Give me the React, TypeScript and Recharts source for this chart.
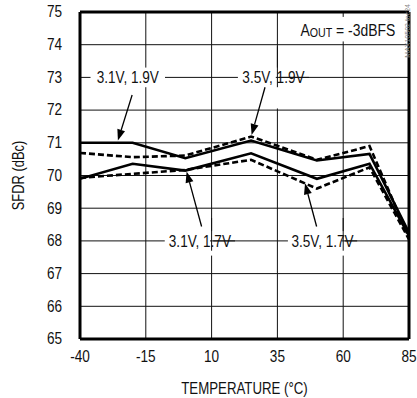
import React from 'react';
import { LineChart, Line, XAxis, YAxis, ReferenceArea, ReferenceLine } from 'recharts';

const temps = [-40, -20, 0, 25, 50, 70, 85];
const sfdr31v19 = [71.0, 71.0, 70.53, 71.07, 70.46, 70.66, 68.25];
const sfdr35v19 = [70.69, 70.56, 70.61, 71.19, 70.48, 70.9, 68.1];
const sfdr31v17 = [69.9, 70.36, 70.15, 70.68, 69.9, 70.36, 68.15];
const sfdr35v17 = [69.93, 70.05, 70.17, 70.48, 69.6, 70.25, 68.05];

const xTicks = [-40, -15, 10, 35, 60, 85];
const yTicks = [65, 66, 67, 68, 69, 70, 71, 72, 73, 74, 75];

const seriesLabels = ['3.1V, 1.9V', '3.5V, 1.9V', '3.1V, 1.7V', '3.5V, 1.7V'];

// label boxes: [x1, x2, y1, y2] in data units
const labelBoxes = [
  [-36, -7.7, 72.7, 73.3],
  [20, 47, 72.7, 73.3],
  [-7.8, 18.9, 67.7, 68.3],
  [39, 65.3, 67.7, 68.3],
];
const aoutBox = [40, 83.5, 74.1, 74.85];
// extra gaps in vertical gridlines: [x1, x2, y1, y2]
const gapBoxes = [
  [34.4, 35.6, 72.05, 73.95],
  [9.4, 10.6, 67.55, 68.7],
  [59.4, 60.6, 67.55, 68.7],
];
// arrows: [fromT, fromV, tipT, tipV]
const arrows = [
  [-20.2, 72.46, -25.6, 71.07],
  [30.3, 72.7, 25.2, 71.24],
  [6.2, 68.44, 0.5, 70.12],
  [49.9, 68.44, 45.5, 69.76],
];

const data = temps.map((t, i) => ({
  t,
  a: sfdr31v19[i],
  b: sfdr35v19[i],
  c: sfdr31v17[i],
  d: sfdr35v17[i],
}));

const X0 = xTicks[0];
const X1 = xTicks[xTicks.length - 1];
const Y0 = yTicks[0];
const Y1 = yTicks[yTicks.length - 1];
const allBoxes = [...labelBoxes, aoutBox, ...gapBoxes];

// gridline point lists, broken (null) where a label box sits on them
const hGridData = (v: number) => {
  const gaps = allBoxes
    .filter((b) => b[2] < v && v < b[3])
    .map((b) => [b[0], b[1]])
    .sort((p, q) => p[0] - q[0]);
  const pts: any[] = [];
  let start = X0;
  gaps.forEach(([a, b]) => {
    pts.push({ t: start, g: v }, { t: a, g: v }, { t: (a + b) / 2, g: null });
    start = b;
  });
  pts.push({ t: start, g: v }, { t: X1, g: v });
  return pts;
};
const vGridData = (v: number) => {
  const gaps = allBoxes
    .filter((b) => b[0] < v && v < b[1])
    .map((b) => [b[2], b[3]])
    .sort((p, q) => p[0] - q[0]);
  const pts: any[] = [];
  let start = Y0;
  gaps.forEach(([a, b]) => {
    pts.push({ t: v, g: start }, { t: v, g: a }, { t: v, g: null });
    start = b;
  });
  pts.push({ t: v, g: start }, { t: v, g: Y1 });
  return pts;
};

const FONT = "'Liberation Sans', Arial, sans-serif";
const INK = '#111';

const Narrow = ({ x, y, size, sx, anchor, rotate, children }: any) => (
  <text
    transform={`translate(${x} ${y})${rotate ? ` rotate(${rotate})` : ''} scale(${sx} 1)`}
    x={0}
    y={0}
    textAnchor={anchor || 'middle'}
    dominantBaseline="central"
    fontFamily={FONT}
    fontSize={size}
    fill={INK}
  >
    {children}
  </text>
);

const XTick = (props: any) => {
  const { x, y, payload } = props;
  return (
    <Narrow x={x} y={y + 6} size={16} sx={0.85}>
      {payload.value}
    </Narrow>
  );
};

const YTick = (props: any) => {
  const { x, y, payload } = props;
  return (
    <Narrow x={x} y={y} size={16} sx={0.85} anchor="end">
      {payload.value}
    </Narrow>
  );
};

const ArrowShape = (props: any) => {
  const { x1, y1, x2, y2 } = props;
  if ([x1, y1, x2, y2].some((v) => v === undefined || isNaN(v))) return null;
  const dx = x2 - x1;
  const dy = y2 - y1;
  const len = Math.sqrt(dx * dx + dy * dy);
  const ux = dx / len;
  const uy = dy / len;
  const hl = 11;
  const hw = 4;
  const bx = x2 - ux * hl;
  const by = y2 - uy * hl;
  const px = -uy;
  const py = ux;
  return (
    <g>
      <line x1={x1} y1={y1} x2={bx} y2={by} stroke="#000" strokeWidth={1.3} />
      <polygon
        points={`${x2},${y2} ${bx + px * hw},${by + py * hw} ${bx - px * hw},${by - py * hw}`}
        fill="#000"
      />
    </g>
  );
};

const BoxLabel = (text: string) => (props: any) => {
  const vb = props.viewBox || {};
  return (
    <Narrow x={vb.x + vb.width / 2} y={vb.y + vb.height / 2} size={17} sx={0.8}>
      {text}
    </Narrow>
  );
};

const AoutLabel = (props: any) => {
  const vb = props.viewBox || {};
  return (
    <Narrow x={vb.x + vb.width / 2} y={vb.y + vb.height / 2} size={17} sx={0.82}>
      <tspan>A</tspan>
      <tspan fontSize={13} dy={3}>OUT</tspan>
      <tspan dy={-3}> = -3dBFS</tspan>
    </Narrow>
  );
};

const YTitle = (props: any) => {
  const vb = props.viewBox || {};
  return (
    <Narrow x={18} y={vb.y + vb.height / 2} size={17} sx={0.76} rotate={-90}>
      SFDR (dBc)
    </Narrow>
  );
};

const XTitle = (props: any) => {
  const vb = props.viewBox || {};
  return (
    <Narrow x={vb.x + vb.width / 2} y={vb.y + 49} size={17} sx={0.78}>
      TEMPERATURE (°C)
    </Narrow>
  );
};

const whiteBox = { fill: '#fff', fillOpacity: 1, stroke: 'none' };

export default function App() {
  return (
    <div style={{ position: 'absolute', left: 0, top: 0, width: 417, height: 398, background: '#fff' }}>
      <LineChart width={417} height={398} data={data} margin={{ top: 12, right: 8, left: 0, bottom: 0 }}>
        <XAxis
          dataKey="t"
          type="number"
          domain={[-40, 85]}
          allowDataOverflow
          ticks={xTicks}
          tickLine={false}
          axisLine={false}
          tickSize={0}
          tickMargin={12}
          height={59}
          tick={<XTick />}
          interval={0}
          label={{ content: XTitle }}
        />
        <YAxis
          type="number"
          domain={[65, 75]}
          ticks={yTicks}
          tickLine={false}
          axisLine={false}
          tickSize={0}
          tickMargin={18}
          width={80}
          tick={<YTick />}
          interval={0}
          label={{ content: YTitle }}
        />
        <ReferenceArea
          x1={aoutBox[0]}
          x2={aoutBox[1]}
          y1={aoutBox[2]}
          y2={aoutBox[3]}
          {...whiteBox}
          label={{ content: AoutLabel }}
        />
        {labelBoxes.map((b, i) => (
          <ReferenceArea
            key={'lb' + i}
            x1={b[0]}
            x2={b[1]}
            y1={b[2]}
            y2={b[3]}
            {...whiteBox}
            label={{ content: BoxLabel(seriesLabels[i]) }}
          />
        ))}
        {yTicks.slice(1, -1).map((v) => (
          <Line
            key={'gy' + v}
            data={hGridData(v)}
            dataKey="g"
            type="linear"
            stroke={INK}
            strokeWidth={1}
            dot={false}
            activeDot={false}
            legendType="none"
            isAnimationActive={false}
          />
        ))}
        {xTicks.slice(1, -1).map((v) => (
          <Line
            key={'gx' + v}
            data={vGridData(v)}
            dataKey="g"
            type="linear"
            stroke={INK}
            strokeWidth={1}
            dot={false}
            activeDot={false}
            legendType="none"
            isAnimationActive={false}
          />
        ))}
        <Line type="linear" dataKey="a" stroke="#000" strokeWidth={2.6} dot={false} isAnimationActive={false} />
        <Line type="linear" dataKey="b" stroke="#000" strokeWidth={2.6} strokeDasharray="6 3" dot={false} isAnimationActive={false} />
        <Line type="linear" dataKey="c" stroke="#000" strokeWidth={2.6} dot={false} isAnimationActive={false} />
        <Line type="linear" dataKey="d" stroke="#000" strokeWidth={2.6} strokeDasharray="6 3" dot={false} isAnimationActive={false} />
        {arrows.map((a, i) => (
          <ReferenceLine
            key={'ar' + i}
            segment={[{ x: a[0], y: a[1] }, { x: a[2], y: a[3] }]}
            shape={ArrowShape}
            ifOverflow="visible"
          />
        ))}
        <ReferenceLine x={-40} stroke="#000" strokeWidth={3} ifOverflow="visible" />
        <ReferenceLine x={85} stroke="#000" strokeWidth={3} ifOverflow="visible" />
        <ReferenceLine y={65} stroke="#000" strokeWidth={3} ifOverflow="visible" />
        <ReferenceLine y={75} stroke="#000" strokeWidth={3} ifOverflow="visible" />
      </LineChart>
      <span
        style={{
          position: 'absolute',
          left: 404,
          top: 4,
          fontFamily: FONT,
          fontSize: 7,
          lineHeight: '7px',
          color: '#888',
          writingMode: 'vertical-rl',
          transform: 'rotate(180deg)',
          whiteSpace: 'nowrap',
        }}
      >
        MAX10502 toc24
      </span>
    </div>
  );
}
